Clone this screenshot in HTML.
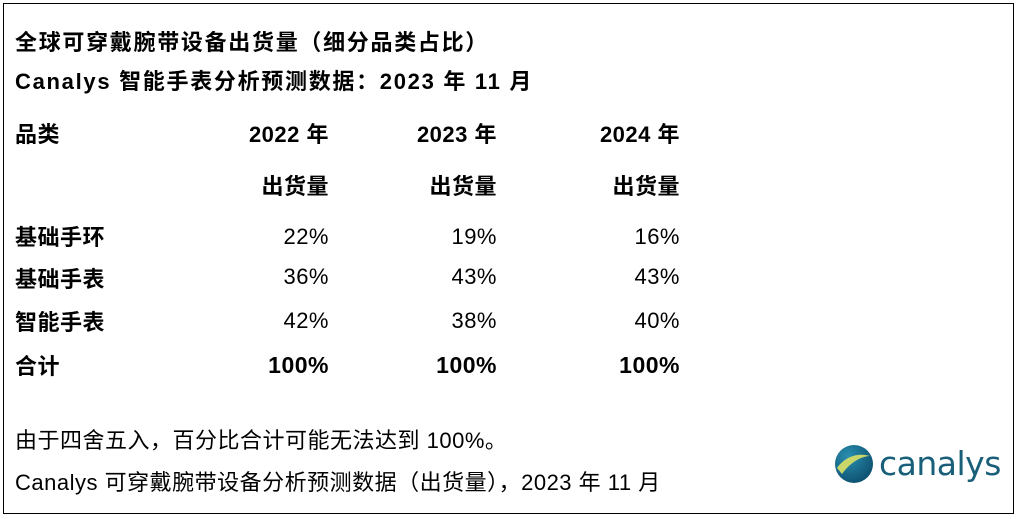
<!DOCTYPE html>
<html><head><meta charset="utf-8"><style>
html,body{margin:0;padding:0;background:#fff;}
#c{position:relative;width:1018px;height:519px;overflow:hidden;font-family:"Liberation Sans","Noto Sans CJK SC",sans-serif;color:#000;}
#b{position:absolute;left:3px;top:3px;width:1009px;height:509px;border:1.5px solid #000;}
.t{position:absolute;font-size:22px;line-height:26px;white-space:nowrap;letter-spacing:0.5px;}
.b{font-weight:bold;}
.r{text-align:right;width:200px;}
</style></head><body><div id="c"><div id="b"></div>
<div class="t b" style="left:15px;top:30px;letter-spacing:1.7px">全球可穿戴腕带设备出货量（细分品类占比）</div>
<div class="t b" style="left:15px;top:69px;letter-spacing:1.7px">Canalys 智能手表分析预测数据：2023 年 11 月</div>
<div class="t b" style="left:15px;top:122px">品类</div>
<div class="t b r" style="left:129px;top:122px">2022 年</div>
<div class="t b r" style="left:297px;top:122px">2023 年</div>
<div class="t b r" style="left:480px;top:122px">2024 年</div>
<div class="t b r" style="left:129px;top:174px">出货量</div>
<div class="t b r" style="left:297px;top:174px">出货量</div>
<div class="t b r" style="left:480px;top:174px">出货量</div>
<div class="t b" style="left:15px;top:225px">基础手环</div>
<div class="t r" style="left:129px;top:224px">22%</div>
<div class="t r" style="left:297px;top:224px">19%</div>
<div class="t r" style="left:480px;top:224px">16%</div>
<div class="t b" style="left:15px;top:267px">基础手表</div>
<div class="t r" style="left:129px;top:264px">36%</div>
<div class="t r" style="left:297px;top:264px">43%</div>
<div class="t r" style="left:480px;top:264px">43%</div>
<div class="t b" style="left:15px;top:310px">智能手表</div>
<div class="t r" style="left:129px;top:308px">42%</div>
<div class="t r" style="left:297px;top:308px">38%</div>
<div class="t r" style="left:480px;top:308px">40%</div>
<div class="t b" style="left:15px;top:354px">合计</div>
<div class="t b r" style="left:129px;top:352px;font-size:23px">100%</div>
<div class="t b r" style="left:297px;top:352px;font-size:23px">100%</div>
<div class="t b r" style="left:480px;top:352px;font-size:23px">100%</div>
<div class="t" style="left:15px;top:428px">由于四舍五入，百分比合计可能无法达到 100%。</div>
<div class="t" style="left:15px;top:470px">Canalys 可穿戴腕带设备分析预测数据（出货量），2023 年 11 月</div>
<svg style="position:absolute;left:834px;top:444px" width="40" height="40" viewBox="0 0 40 40">
<defs><radialGradient id="g" cx="0.35" cy="0.3" r="0.8"><stop offset="0" stop-color="#2a8fb0"/><stop offset="1" stop-color="#0b4b6b"/></radialGradient></defs>
<circle cx="20" cy="20" r="19" fill="url(#g)"/>
<path d="M3 24 C10 14,22 8,36 12 C30 12,18 16,8 30 Z" fill="#c8d66a"/>
</svg>
<div class="t" style="left:879px;top:445px;font-size:33px;line-height:38px;color:#1a5f7a;font-family:'DejaVu Sans',sans-serif;letter-spacing:-0.5px">canalys</div>
</div></body></html>
